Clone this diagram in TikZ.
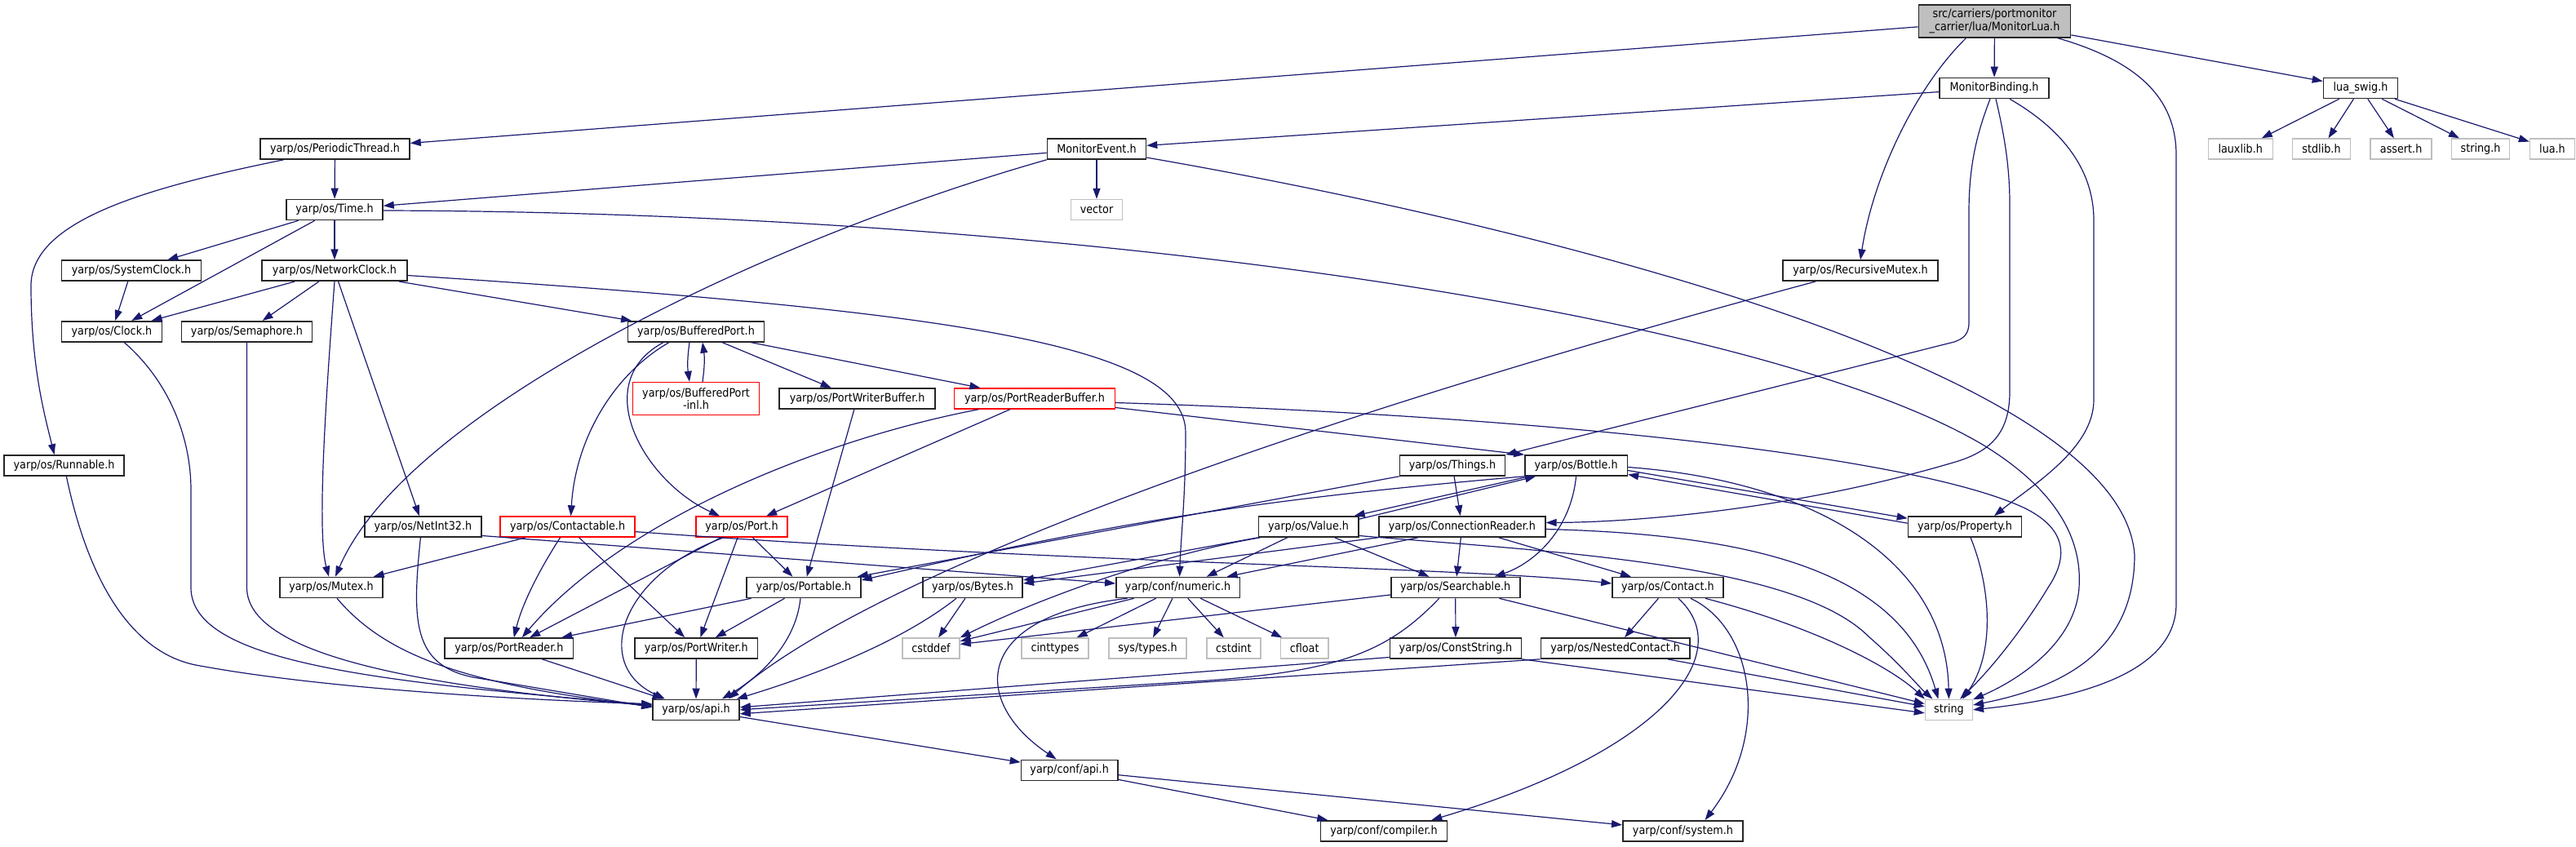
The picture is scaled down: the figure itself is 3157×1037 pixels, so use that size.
\documentclass[tikz,border=0pt]{standalone}
\usepackage{fontspec}
\setmainfont{DejaVu Sans Condensed}
\usetikzlibrary{arrows.meta}
\definecolor{edgeblue}{HTML}{191970}
\definecolor{extgray}{HTML}{BFBFBF}

\begin{document}
\begin{tikzpicture}[x=1pt, y=-1pt,
  hdr/.style = {draw=black!85, fill=white, line width=1.6pt, minimum height=25pt, inner sep=0pt, font=\fontsize{14.2}{15.5}\selectfont},
  ext/.style = {hdr, draw=extgray, line width=1.4pt},
  cut/.style = {hdr, draw=red, line width=1.4pt},
  inc/.style = {draw=edgeblue, line width=1.2pt, -{Triangle[length=13pt, width=9pt]}}]
\useasboundingbox (0,0) rectangle (3157,1037);

% headers, row by row
\node[hdr, fill=extgray, minimum width=186pt, minimum height=40pt, align=center] (main) at (2444.5,25.8) {src/carriers/portmonitor\\\_carrier/lua/MonitorLua.h};
\node[hdr, minimum width=134pt] (mbind) at (2444,108) {MonitorBinding.h};
\node[hdr, minimum width=91pt] (luaswig) at (2893,108) {lua\_swig.h};
\node[hdr, minimum width=183pt] (pthread) at (410.5,182.5) {yarp/os/PeriodicThread.h};
\node[hdr, minimum width=121pt] (mevent) at (1344,182.5) {MonitorEvent.h};
\node[ext, minimum width=79pt] (lauxlib) at (2745.7,182.5) {lauxlib.h};
\node[ext, minimum width=71pt] (stdlib) at (2845,182.5) {stdlib.h};
\node[ext, minimum width=75pt] (assert) at (2942.6,182.5) {assert.h};
\node[ext, minimum width=71pt] (stringh) at (3040,182.5) {string.h};
\node[ext, minimum width=55pt] (luah) at (3128,182.5) {lua.h};
\node[hdr, minimum width=118pt] (time) at (410,257) {yarp/os/Time.h};
\node[ext, minimum width=63pt] (vector) at (1344,257) {vector};
\node[hdr, minimum width=171pt] (sysclock) at (161,331.7) {yarp/os/SystemClock.h};
\node[hdr, minimum width=178pt] (netclock) at (410,331.7) {yarp/os/NetworkClock.h};
\node[hdr, minimum width=190pt] (rmutex) at (2280,331.7) {yarp/os/RecursiveMutex.h};
\node[hdr, minimum width=123pt] (clock) at (137,406.3) {yarp/os/Clock.h};
\node[hdr, minimum width=160pt] (sema) at (302.5,406.3) {yarp/os/Semaphore.h};
\node[hdr, minimum width=167pt] (bport) at (853,406.3) {yarp/os/BufferedPort.h};
\node[cut, minimum width=155pt, minimum height=40pt, align=center] (bpinl) at (853,488.5) {yarp/os/BufferedPort\\-inl.h};
\node[hdr, minimum width=191pt] (pwbuf) at (1050.6,488.5) {yarp/os/PortWriterBuffer.h};
\node[cut, minimum width=197pt] (prbuf) at (1268,488.5) {yarp/os/PortReaderBuffer.h};
\node[hdr, minimum width=147pt] (runnable) at (78.6,570.5) {yarp/os/Runnable.h};
\node[hdr, minimum width=129pt] (things) at (1780,570.5) {yarp/os/Things.h};
\node[hdr, minimum width=125.5pt] (bottle) at (1931.6,570.5) {yarp/os/Bottle.h};
\node[hdr, minimum width=143pt] (netint) at (518.4,645.5) {yarp/os/NetInt32.h};
\node[cut, minimum width=165pt] (contactable) at (695.6,645.5) {yarp/os/Contactable.h};
\node[cut, minimum width=112pt] (port) at (909,645.5) {yarp/os/Port.h};
\node[hdr, minimum width=122.5pt] (value) at (1603.6,645.5) {yarp/os/Value.h};
\node[hdr, minimum width=204pt] (connreader) at (1791.8,645.5) {yarp/os/ConnectionReader.h};
\node[hdr, minimum width=139pt] (property) at (2408,645.5) {yarp/os/Property.h};
\node[hdr, minimum width=126.5pt] (mutex) at (406,720) {yarp/os/Mutex.h};
\node[hdr, minimum width=140pt] (portable) at (985,720) {yarp/os/Portable.h};
\node[hdr, minimum width=122.5pt] (bytes) at (1192,720) {yarp/os/Bytes.h};
\node[hdr, minimum width=151.5pt] (numeric) at (1443.6,720) {yarp/conf/numeric.h};
\node[hdr, minimum width=158pt] (searchable) at (1783.7,720) {yarp/os/Searchable.h};
\node[hdr, minimum width=135.7pt] (contact) at (2043.9,720) {yarp/os/Contact.h};
\node[hdr, minimum width=157.6pt] (preader) at (623.8,794.5) {yarp/os/PortReader.h};
\node[hdr, minimum width=150.6pt] (pwriter) at (853.3,794.5) {yarp/os/PortWriter.h};
\node[ext, minimum width=70pt] (cstddef) at (1141,794.5) {cstddef};
\node[ext, minimum width=82pt] (cinttypes) at (1293,794.5) {cinttypes};
\node[ext, minimum width=95pt] (systypes) at (1406.5,794.5) {sys/types.h};
\node[ext, minimum width=66pt] (cstdint) at (1511.8,794.5) {cstdint};
\node[ext, minimum width=58.6pt] (cfloat) at (1598.7,794.5) {cfloat};
\node[hdr, minimum width=160.7pt] (cstring) at (1784,794.5) {yarp/os/ConstString.h};
\node[hdr, minimum width=182.6pt] (nested) at (1979.6,794.5) {yarp/os/NestedContact.h};
\node[hdr, minimum width=106pt] (api) at (853,869.8) {yarp/os/api.h};
\node[ext, minimum width=58pt] (string) at (2388.4,869.8) {string};
\node[hdr, minimum width=118.4pt] (confapi) at (1310.7,943.8) {yarp/conf/api.h};
\node[hdr, minimum width=155pt] (compiler) at (1696,1018.3) {yarp/conf/compiler.h};
\node[hdr, minimum width=147.4pt] (system) at (2062.5,1018.3) {yarp/conf/system.h};

% MonitorLua.h
\draw[inc] (main) -- (pthread);
\draw[inc] (main) -- (mbind);
\draw[inc] (main) -- (luaswig);
\draw[inc] ([xshift=-35pt]main.south) .. controls (2345,110) and (2295,220) .. (rmutex.north);
\draw[inc] ([xshift=77pt]main.south) .. controls (2620,75) and (2667,120) .. (2667,190) -- (2667,740) .. controls (2667,820) and (2560,855) .. (string.east);

% lua_swig.h
\foreach \h in {lauxlib,stdlib,assert,stringh,luah}
  \draw[inc] (luaswig) -- (\h);

% MonitorBinding.h
\draw[inc] (mbind) -- (mevent);
\draw[inc] ([xshift=-5pt]mbind.south) .. controls (2420,170) and (2413,210) .. (2413,260) -- (2413,395) .. controls (2413,410) and (2406,415) .. (2395,419) -- (things.north east);
\draw[inc] ([xshift=2pt]mbind.south) .. controls (2455,160) and (2463,200) .. (2463,250) -- (2463,480) .. controls (2463,530) and (2440,552) .. (2400,565) .. controls (2200,625) and (2000,640) .. ([yshift=5pt]connreader.east);
\draw[inc] ([xshift=19pt]mbind.south) .. controls (2530,160) and (2566,210) .. (2566,270) -- (2566,490) .. controls (2566,550) and (2490,595) .. ([xshift=36pt]property.north);

% PeriodicThread.h and MonitorEvent.h
\draw[inc] (pthread) -- (time);
\draw[inc] ([xshift=-63pt]pthread.south) .. controls (180,230) and (38,270) .. (38,350) .. controls (38,450) and (55,510) .. ([xshift=-12pt]runnable.north);
\draw[inc] (mevent) -- (time);
\draw[inc] (mevent) -- (vector);
\draw[inc] (mevent.south west) .. controls (950,290) and (500,500) .. ([xshift=5pt]mutex.north);
\draw[inc] (mevent) .. controls (1850,270) and (2600,450) .. (2616,680) .. controls (2616,790) and (2540,840) .. (string);

% Time.h and the clocks
\draw[inc] (time) -- (sysclock);
\draw[inc] (time) -- (netclock);
\draw[inc] (time) -- (clock);
\draw[inc] ([yshift=-1pt]time.east) .. controls (1300,260) and (2150,380) .. (2430,545) .. controls (2520,600) and (2552,660) .. (2548,720) .. controls (2543,790) and (2470,835) .. (string);
\draw[inc] (sysclock) -- (clock);
\draw[inc] (netclock) -- (clock);
\draw[inc] (netclock) -- (sema);
\draw[inc] (netclock) -- (bport);
\draw[inc] (netclock) -- (netint);
\draw[inc] (netclock.south) .. controls (400,480) and (388,650) .. ([xshift=-3pt]mutex.north);
\draw[inc] (netclock) .. controls (1150,380) and (1453,420) .. (1453,530) .. controls (1453,610) and (1447,660) .. ([xshift=2pt]numeric.north);

% into yarp/os/api.h
\draw[inc] ([xshift=-55pt]rmutex.south) .. controls (1500,540) and (1050,720) .. ([xshift=-14pt]api.north east);
\draw[inc] (runnable) .. controls (110,720) and (165,800) .. (240,815) .. controls (400,845) and (650,858) .. ([yshift=7pt]api.west);
\draw[inc] (clock) .. controls (210,470) and (234,540) .. (234,600) -- (234,720) .. controls (234,810) and (450,835) .. ([yshift=6pt]api.west);
\draw[inc] (sema.south) -- (302.5,720) .. controls (302.5,800) and (500,840) .. ([yshift=5pt]api.west);
\draw[inc] ([xshift=7pt]mutex.south) .. controls (470,800) and (560,838) .. ([yshift=4pt]api.west);
\draw[inc] ([xshift=-3pt]netint.south) .. controls (505,760) and (505,815) .. (580,830) -- ([yshift=3pt]api.west);
\draw[inc] ([yshift=-11pt]netint.east) -- ([yshift=5pt]numeric.west);

% BufferedPort.h
\draw[inc] ([xshift=-8pt]bport.south) to[bend right=8] ([xshift=-8pt]bpinl.north);
\draw[inc] ([xshift=8pt]bpinl.north) to[bend right=8] ([xshift=8pt]bport.south);
\draw[inc] (bport) -- (pwbuf);
\draw[inc] (bport) -- (prbuf);
\draw[inc] ([xshift=-33pt]bport.south) .. controls (750,460) and (705,540) .. ([xshift=4pt]contactable.north);
\draw[inc] ([xshift=-40pt]bport.south) .. controls (720,470) and (790,590) .. ([xshift=-27pt]port.north);
\draw[inc] (pwbuf) -- (portable);
\draw[inc] (prbuf) -- (port);
\draw[inc] (prbuf) .. controls (1000,540) and (760,640) .. ([xshift=16pt]preader.north);
\draw[inc] ([yshift=-11pt]prbuf.east) -- (bottle.north west);
\draw[inc] ([yshift=-5pt]prbuf.east) .. controls (1900,510) and (2350,560) .. (2482,623) .. controls (2540,652) and (2530,690) .. (2510,720) .. controls (2480,770) and (2440,820) .. (string);

% Things.h, Bottle.h, Property.h, Value.h
\draw[inc] (things) -- (connreader);
\draw[inc] (things.south west) -- ([xshift=-5pt]portable.north east);
\draw[inc] ([xshift=6pt]bottle.south west) -- ([xshift=-6pt]value.north east);
\draw[inc] (bottle.south west) to[bend right=4] ([yshift=9pt]portable.east);
\draw[inc] ([yshift=-6pt]bottle.east) -- ([yshift=-3pt]property.north west);
\draw[inc] (bottle.south) .. controls (1925,650) and (1880,690) .. ([xshift=48pt]searchable.north);
\draw[inc] ([yshift=-2pt]bottle.east) .. controls (2230,590) and (2385,690) .. (string.north);
\draw[inc] ([yshift=-9pt]property.north west) -- ([yshift=-11pt]bottle.east);
\draw[inc] ([xshift=7pt]property.south) .. controls (2440,720) and (2445,800) .. ([xshift=17pt]string.north);
\draw[inc] ([yshift=-4pt]value.north east) -- ([xshift=14pt]bottle.south west);
\draw[inc] (value) -- (searchable);
\draw[inc] (value.south west) -- ([yshift=9pt]bytes.east);
\draw[inc] ([xshift=3pt]value.south west) .. controls (1430,678) and (1280,730) .. (cstddef.north east);
\draw[inc] ([xshift=-26pt]value.south) -- ([xshift=35pt]numeric.north);
\draw[inc] ([yshift=-11pt]value.east) .. controls (1900,676) and (2200,690) .. (2290,780) .. controls (2330,815) and (2350,840) .. ([xshift=-20pt]string.north);

% ConnectionReader.h
\draw[inc] (connreader) -- (searchable);
\draw[inc] (connreader) -- (contact);
\draw[inc] (connreader.south west) -- ([yshift=5pt]bytes.east);
\draw[inc] ([xshift=-54pt]connreader.south) -- ([xshift=60pt]numeric.north);
\draw[inc] ([yshift=-3pt]connreader.east) .. controls (2150,655) and (2330,700) .. ([xshift=-13pt]string.north);

% Contactable.h, Port.h, Portable.h
\draw[inc] (contactable) -- (mutex);
\draw[inc] ([xshift=-9pt]contactable.south) .. controls (660,700) and (640,740) .. ([xshift=6pt]preader.north);
\draw[inc] (contactable) -- (pwriter);
\draw[inc] (contactable) .. controls (1300,690) and (1800,695) .. ([yshift=5pt]contact.west);
\draw[inc] (port) -- (preader);
\draw[inc] (port) -- (pwriter);
\draw[inc] (port) -- (portable);
\draw[inc] ([xshift=-22pt]port.south) .. controls (760,705) and (725,815) .. ([xshift=-38pt]api.north);
\draw[inc] (portable) -- (preader);
\draw[inc] (portable) -- (pwriter);
\draw[inc] ([xshift=-4pt]portable.south) .. controls (975,790) and (930,830) .. ([xshift=-22pt]api.north east);

% Bytes.h and numeric.h
\draw[inc] (bytes) -- (cstddef);
\draw[inc] ([xshift=-20pt]bytes.south) .. controls (1100,790) and (990,830) .. ([xshift=-4pt]api.north east);
\foreach \h in {cstddef,cinttypes,systypes,cstdint,cfloat}
  \draw[inc] (numeric) -- (\h);
\draw[inc] ([xshift=-62pt]numeric.south) .. controls (1190,755) and (1190,860) .. ([xshift=-16pt]confapi.north);

% Searchable.h, Contact.h and below
\draw[inc] ([yshift=-9pt]searchable.west) -- ([yshift=5pt]cstddef.east);
\draw[inc] ([xshift=-20pt]searchable.south) .. controls (1700,800) and (1640,822) .. (1480,834) -- (api.east);
\draw[inc] (searchable) -- (cstring);
\draw[inc] (searchable) -- (string);
\draw[inc] (contact) -- (nested);
\draw[inc] ([xshift=13pt]contact.south) .. controls (2130,800) and (2040,920) .. ([xshift=-20pt]compiler.north east);
\draw[inc] ([xshift=28pt]contact.south) .. controls (2150,770) and (2170,900) .. ([xshift=27pt]system.north);
\draw[inc] ([xshift=46pt]contact.south) .. controls (2230,770) and (2320,820) .. (string.north west);
\draw[inc] ([yshift=-11pt]cstring.west) -- ([yshift=3pt]api.east);
\draw[inc] (cstring.south east) -- ([yshift=-4pt]string.west);
\draw[inc] (nested.south west) -- ([yshift=-5pt]api.east);
\draw[inc] ([xshift=64pt]nested.south) -- ([yshift=4pt]string.west);
\draw[inc] (preader) -- (api);
\draw[inc] (pwriter) -- (api);
\draw[inc] (api) -- (confapi);
\draw[inc] (confapi) -- (compiler);
\draw[inc] (confapi) -- (system);
\end{tikzpicture}
\end{document}
